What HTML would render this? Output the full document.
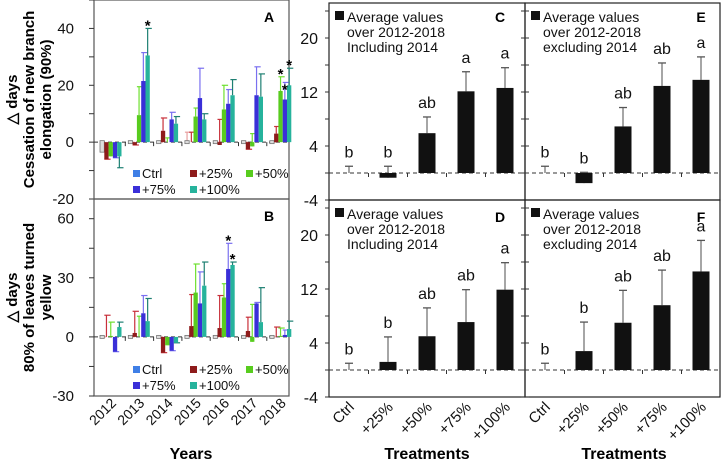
<!DOCTYPE html>
<html><head><meta charset="utf-8"><style>
html,body{margin:0;padding:0;background:#fff;}
svg{display:block;font-family:"Liberation Sans",Arial,sans-serif;}
</style></head><body>
<svg id="fig" width="722" height="465" viewBox="0 0 722 465" xmlns="http://www.w3.org/2000/svg"></svg>
<script>
const years = ["2012","2013","2014","2015","2016","2017","2018"];
const treatments = ["Ctrl","+25%","+50%","+75%","+100%"];
const colors = ["#3f7fe6","#8e1b1b","#58cc1e","#3a2fd8","#26b39c"];
const errColors = ["#e8a0a0","#c8303a","#6ee030","#7a70f0","#1d7f72"];
// Panel A
const aVals = [[-3,-6,-5,-5.5,-5],[0,-1,9.5,21.5,30.5],[0,4,0,8,6.5],[0,0,9,15.5,8],[0,-1,11.5,13.5,16.5],[0,-2.5,-1.5,16.5,16],[0,3,18,15,20]];
const aErr = [[-3,-6,-2,-5.5,-9],[0,-1,19.5,31.5,40],[0,8.5,1.5,10.5,9],[3.5,3.5,12,26,10],[0,8,20,18.5,22],[0,-2.5,3,26.5,24],[0,5.5,23,21,26]];
const aStars = [[1,4],[6,2],[6,3],[6,4]];
// Panel B
const bVals = [[0,0,0.5,-7.5,5],[0,2,0,12,8],[0,-8,-4,-7,-3],[0,5.5,22.5,17,26],[0,4.5,20,34.5,36.5],[0,3,-2.5,17,7.5],[0,0,0.5,1,4]];
const bErr = [[0,11,7.5,-7.5,7.5],[0,13,10.5,21,19.5],[0,-8,-4,-7,-3],[0,21.5,37,33,38],[0,21,27,47.5,38],[0,10,16.5,17.5,25],[0,5,4.5,3.5,8]];
const bStars = [[4,3],[4,4]];
// Panels C-F
const cVals = [0,-0.7,5.9,12.1,12.6]; const cErr = [1,1,8.3,15,15.6]; const cLet = ["b","b","ab","a","a"];
const eVals = [0,-1.5,6.9,12.9,13.8]; const eErr = [1,0.1,9.7,16.3,17.2]; const eLet = ["b","b","ab","ab","a"];
const dVals = [0,1.2,5.0,7.1,11.9]; const dErr = [1,4.9,9.2,11.9,15.9]; const dLet = ["b","b","ab","ab","a"];
const fVals = [0,2.8,7.0,9.6,14.6]; const fErr = [1,7.1,11.8,14.8,19.2]; const fLet = ["b","b","ab","ab","a"];

const svg=document.getElementById('fig');
const NS="http://www.w3.org/2000/svg";
function el(tag,at,parent){const e=document.createElementNS(NS,tag);for(const k in at)e.setAttribute(k,at[k]);(parent||svg).appendChild(e);return e;}
function txt(s,at,parent){const e=el('text',at,parent);e.textContent=s;return e;}

function yearPanel(name,vals,errs,stars,top,bot,ymin,ymax,ticks,label,titles,legY){
  const g=el('g',{});
  
  
  const x0=94,x1=289;
  const y=v=>bot-(v-ymin)/(ymax-ymin)*(bot-top);
  const frame=el('rect',{x:x0,y:top,width:x1-x0,height:bot-top,fill:'none',stroke:'#555','stroke-width':1.2},g);
  
  const step=(ticks[1]-ticks[0])/2;
  for(let v=ymin;v<=ymax+0.001;v+=step){el('line',{x1:x0-5,x2:x0,y1:y(v),y2:y(v),stroke:'#333','stroke-width':1},g);}
  ticks.forEach(t=>{const tl=txt(String(t),{x:x0-20,y:y(t)+5,'text-anchor':'end','font-size':15,fill:'#111'},g);
    });
  const gw=28.3, gx=i=>x0+6+gw*i, bw=4.3;
  el('line',{x1:x0,x2:x1,y1:y(0),y2:y(0),stroke:'#333','stroke-width':1,'stroke-dasharray':'4,3'},g);
  for(let i=1;i<7;i++) el('line',{x1:gx(i)-3,x2:gx(i)-3,y1:y(0),y2:y(0)+4,stroke:'#333'},g);
  vals.forEach((row,i)=>{row.forEach((v,j)=>{
    const bx=gx(i)+j*bw;
    const e=errs[i][j];
    el('line',{x1:bx+bw/2,x2:bx+bw/2,y1:y(v),y2:y(e),stroke:errColors[j],'stroke-width':1.2},g);
    el('line',{x1:bx,x2:bx+bw+2,y1:y(e),y2:y(e),stroke:errColors[j],'stroke-width':1.2},g);
    let r;
    if(j===0){r=el('rect',{x:bx,y:y(Math.max(v,0))-1.5,width:bw,height:Math.abs(y(v)-y(0))+3,fill:'#ddd',stroke:'#777','stroke-width':0.8},g);}
    else r=el('rect',{x:bx,y:Math.min(y(v),y(0)),width:bw,height:Math.abs(y(v)-y(0)),fill:colors[j]},g);
    
    
  });});
  stars.forEach(s=>{const i=s[0],j=s[1];const bx=gx(i)+j*bw+bw/2;
    txt('*',{x:bx,y:y(errs[i][j])+(j===3&&i===6?10:0)+2,'text-anchor':'middle','font-size':15,'font-weight':'bold'},g);});
  txt(label,{x:x0+175,y:top+22,'text-anchor':'middle','font-size':14,'font-weight':'bold'},g);
  const lg=el('g',{},g);
  const lp=[[133,0],[190,0],[246,0],[133,16],[190,16]];
  treatments.forEach((t,j)=>{const p=lp[j];
    el('rect',{x:p[0],y:legY+p[1]-5,width:7,height:7,fill:colors[j]},lg);
    const lt=txt(t,{x:p[0]+9,y:legY+p[1]+3,'font-size':13,fill:'#111'},lg);
    });
  const cy=(top+bot)/2;
  titles.forEach((t,k)=>{const tt=txt(t,{x:0,y:0,transform:`translate(${17+k*17},${cy}) rotate(-90)`,'text-anchor':'middle','font-size':15,'font-weight':'bold'},g);
    });
}
yearPanel('panel-a',aVals,aErr,aStars,0,199,-20,50,[-20,0,20,40],'A',['△ days','Cessation of new branch','elongation (90%)'],175);
yearPanel('panel-b',bVals,bErr,bStars,199,396,-30,70,[-30,0,30,60],'B',['△ days','80% of leaves turned','yellow'],371);

years.forEach((yr,i)=>{const cx=94+6+28.3*i+11;
  const t=txt(yr,{x:0,y:0,transform:`translate(${cx+6},${404}) rotate(-45)`,'text-anchor':'end','font-size':14,fill:'#111'});
  });
const yt=txt('Years',{x:191,y:459,'text-anchor':'middle','font-size':16,'font-weight':'bold'});


function treatPanel(name,vals,errs,lets,x0,x1,top,bot,label,lbx,lby,sub,showTicks){
  const g=el('g',{});
  
  
  const ppu=6.75;
  const y=v=>bot-(v+4)*ppu;
  el('rect',{x:x0,y:top,width:x1-x0,height:bot-top,fill:'none',stroke:'#222','stroke-width':1.2},g);
  for(let v=-4;v<=24;v+=4){if(y(v)<top)break;el('line',{x1:x0-4,x2:x0+(showTicks?0:4),y1:y(v),y2:y(v),stroke:'#333'},g);}
  if(showTicks)[-4,4,12,20].forEach(t=>{const tl=txt(String(t),{x:x0-11,y:y(t)+6,'text-anchor':'end','font-size':16,fill:'#111'},g);
    });
  el('line',{x1:x0,x2:x1,y1:y(0),y2:y(0),stroke:'#333','stroke-width':1,'stroke-dasharray':'4,3'},g);
  const cx=i=>x0+20+39*i;
  for(let i=0;i<4;i++)el('line',{x1:cx(i)+19.5,x2:cx(i)+19.5,y1:y(0),y2:y(0)+4,stroke:'#333'},g);
  vals.forEach((v,i)=>{
    const e=errs[i];
    el('line',{x1:cx(i),x2:cx(i),y1:y(v),y2:y(e),stroke:'#777','stroke-width':1.3},g);
    el('line',{x1:cx(i)-4,x2:cx(i)+4,y1:y(e),y2:y(e),stroke:'#555','stroke-width':1.3},g);
    if(i>0||v!==0){const r=el('rect',{x:cx(i)-8.5,y:Math.min(y(v),y(0)),width:17,height:Math.abs(y(v)-y(0)),fill:'#111'},g);
      }
    const lt=txt(lets[i],{x:cx(i),y:y(Math.max(e,0))-9,'text-anchor':'middle','font-size':16,fill:'#111'},g);
    
  });
  const lg=el('g',{},g);
  el('rect',{x:x0+6,y:top+8,width:9,height:9,fill:'#111'},lg);
  ['Average values','over 2012-2018',sub].forEach((s,k)=>txt(s,{x:x0+18,y:top+19+k*15,'font-size':14,fill:'#111'},lg));
  txt(label,{x:lbx,y:lby,'text-anchor':'middle','font-size':14,'font-weight':'bold'},g);
  return cx;
}
const cxC=treatPanel('panel-c',cVals,cErr,cLet,329,525,3,200,'C',500,22,'Including 2014',true);
treatPanel('panel-e',eVals,eErr,eLet,525,720,3,200,'E',701,22,'excluding 2014',false);
const cxD=treatPanel('panel-d',dVals,dErr,dLet,329,525,200,397,'D',500,222,'Including 2014',true);
const cxF=treatPanel('panel-f',fVals,fErr,fLet,525,720,200,397,'F',701,222,'excluding 2014',false);
[cxD,cxF].forEach((cx,p)=>{
  treatments.forEach((t,i)=>{const tl=txt(t,{x:0,y:0,transform:`translate(${cx(i)+6},${408}) rotate(-45)`,'text-anchor':'end','font-size':15,fill:'#111'});
    });
  const tt=txt('Treatments',{x:p===0?427:624,y:459,'text-anchor':'middle','font-size':16,'font-weight':'bold'});
  
});
</script>
</body></html>
